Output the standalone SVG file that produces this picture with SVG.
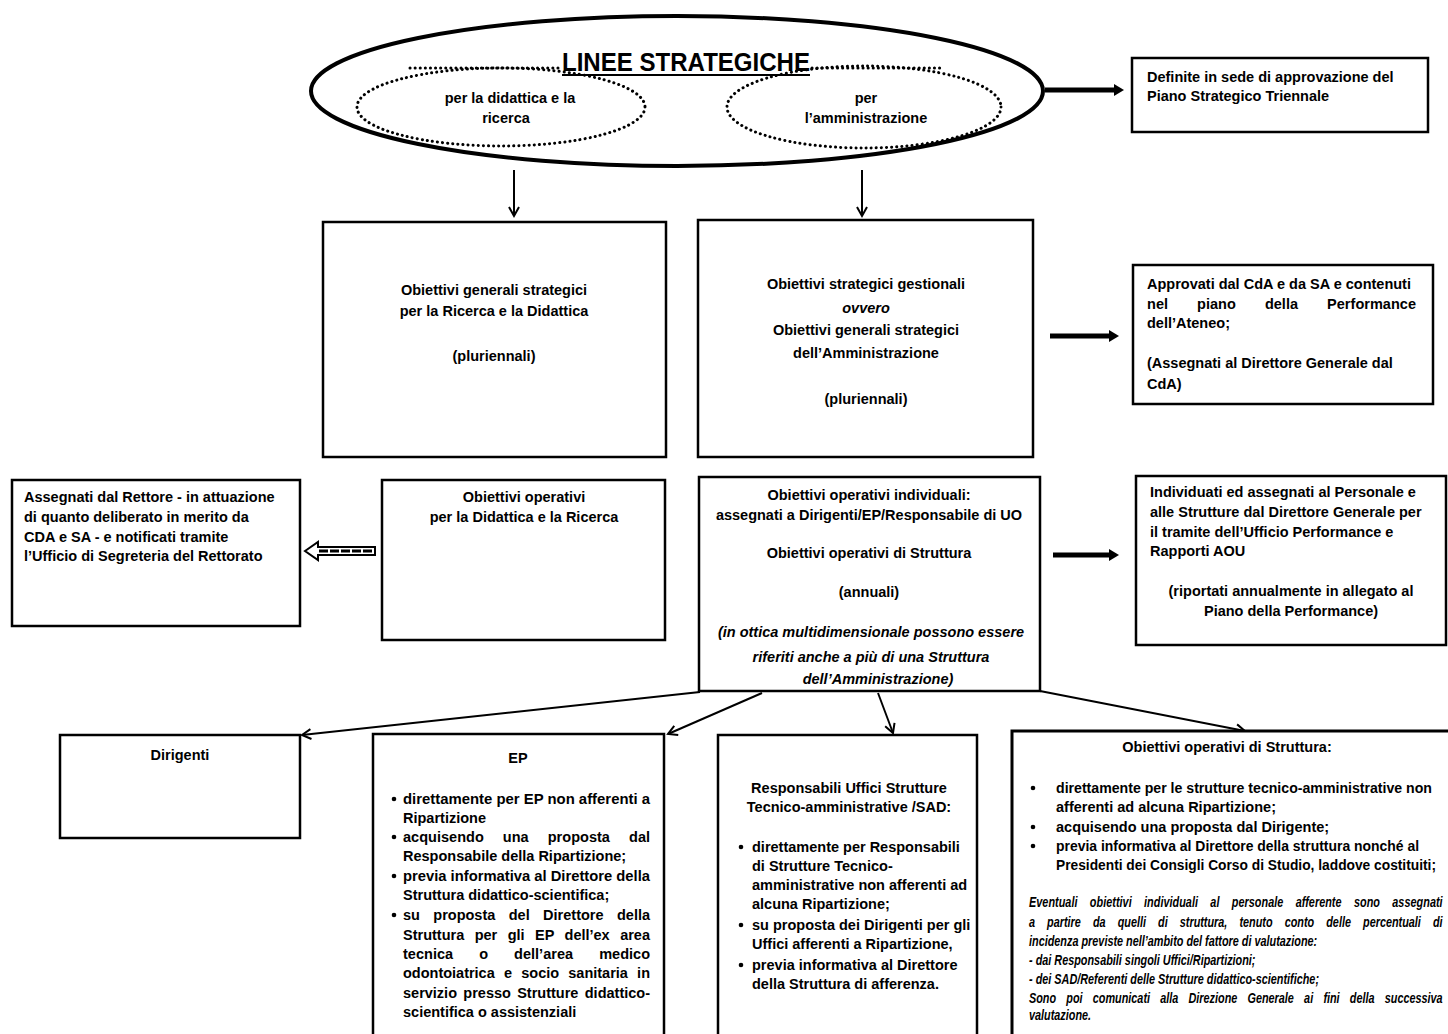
<svg xmlns="http://www.w3.org/2000/svg" width="1448" height="1034" viewBox="0 0 1448 1034">
<defs>
<style>
text{font-family:"Liberation Sans",Arial,sans-serif;font-weight:bold;font-size:14.5px;fill:#000}
.c{text-anchor:middle}
.i{font-style:italic}
.sm{font-size:14px}
.box{fill:#fff;stroke:#000;stroke-width:2.5}
.dot{fill:none;stroke:#000;stroke-width:3;stroke-dasharray:0.1 5;stroke-linecap:round}
.ln{fill:none;stroke:#000;stroke-width:2}
.thick{fill:none;stroke:#000;stroke-width:5}
</style>
<marker id="open" markerWidth="14" markerHeight="14" refX="10" refY="6" orient="auto" markerUnits="userSpaceOnUse">
<path d="M1,1 L10,6 L1,11" fill="none" stroke="#000" stroke-width="2"/>
</marker>
<marker id="solid" markerWidth="12" markerHeight="14" refX="2" refY="7" orient="auto" markerUnits="userSpaceOnUse">
<path d="M0,1 L10,7 L0,13 Z" fill="#000"/>
</marker>
</defs>
<rect width="1448" height="1034" fill="#fff"/>

<g id="connectors">
<line class="ln" x1="514" y1="170" x2="514" y2="216" marker-end="url(#open)"/>
<line class="ln" x1="862" y1="170" x2="862" y2="216" marker-end="url(#open)"/>
<line class="thick" x1="1045" y1="90" x2="1116" y2="90" marker-end="url(#solid)"/>
<line class="thick" x1="1050" y1="336" x2="1111" y2="336" marker-end="url(#solid)"/>
<line class="thick" x1="1053" y1="555" x2="1111" y2="555" marker-end="url(#solid)"/>
<g id="hollow-arrow">
<polygon points="305,551 318,542 318,547 375,547 375,555 318,555 318,560" fill="#fff" stroke="#000" stroke-width="2"/>
<line x1="319" y1="551" x2="373" y2="551" stroke="#000" stroke-width="3" stroke-dasharray="9 2"/>
</g>
<line class="ln" x1="700" y1="692" x2="302" y2="735" marker-end="url(#open)"/>
<line class="ln" x1="762" y1="693" x2="668" y2="734" marker-end="url(#open)"/>
<line class="ln" x1="878" y1="693" x2="893" y2="733" marker-end="url(#open)"/>
<line class="ln" x1="1040" y1="691" x2="1245" y2="731" marker-end="url(#open)"/>
<line x1="1253" y1="797" x2="1253" y2="832" stroke="#000" stroke-width="1.5" marker-end="url(#open)"/>
</g>

<g id="linee-strategiche">
<ellipse cx="677" cy="91" rx="366" ry="75" fill="none" stroke="#000" stroke-width="4"/>
<ellipse class="dot" cx="501" cy="107" rx="144" ry="39"/>
<ellipse class="dot" cx="864" cy="107" rx="137" ry="41"/>
<line class="dot" x1="410" y1="68" x2="558" y2="68"/>
<line class="dot" x1="812" y1="68" x2="940" y2="68"/>
<text x="686" y="71" class="c" style="font-size:25px" textLength="248" lengthAdjust="spacingAndGlyphs">LINEE STRATEGICHE</text>
<line x1="562" y1="75" x2="810" y2="75" stroke="#000" stroke-width="2"/>
<text x="510" y="103" class="c">per la didattica e la</text>
<text x="506" y="123" class="c">ricerca</text>
<text x="866" y="103" class="c">per</text>
<text x="866" y="123" class="c">l’amministrazione</text>
</g>

<g id="piano-strategico">
<rect class="box" x="1132" y="58" width="296" height="74"/>
<text x="1147" y="82">Definite in sede di approvazione del</text>
<text x="1147" y="101">Piano Strategico Triennale</text>
</g>

<g id="obiettivi-generali-ricerca">
<rect class="box" x="323" y="222" width="343" height="235"/>
<text x="494" y="295" class="c">Obiettivi generali strategici</text>
<text x="494" y="316" class="c">per la Ricerca e la Didattica</text>
<text x="494" y="361" class="c">(pluriennali)</text>
</g>

<g id="obiettivi-strategici-gestionali">
<rect class="box" x="698" y="220" width="335" height="237"/>
<text x="866" y="289" class="c">Obiettivi strategici gestionali</text>
<text x="866" y="313" class="c i">ovvero</text>
<text x="866" y="335" class="c">Obiettivi generali strategici</text>
<text x="866" y="358" class="c">dell’Amministrazione</text>
<text x="866" y="404" class="c">(pluriennali)</text>
</g>

<g id="approvati-cda">
<rect class="box" x="1133" y="265" width="300" height="139"/>
<text x="1147" y="289">Approvati dal CdA e da SA e contenuti</text>
<text x="1147" y="309" style="word-spacing:25px" textLength="269" lengthAdjust="spacing">nel piano della Performance</text>
<text x="1147" y="328">dell’Ateneo;</text>
<text x="1147" y="368">(Assegnati al Direttore Generale  dal</text>
<text x="1147" y="389">CdA)</text>
</g>

<g id="assegnati-rettore">
<rect class="box" x="12" y="480" width="288" height="146"/>
<text x="24" y="502">Assegnati dal Rettore - in attuazione</text>
<text x="24" y="522">di quanto deliberato in merito da</text>
<text x="24" y="542">CDA e SA - e notificati tramite</text>
<text x="24" y="561">l’Ufficio di Segreteria del Rettorato</text>
</g>

<g id="obiettivi-operativi-didattica">
<rect class="box" x="382" y="480" width="283" height="160"/>
<text x="524" y="502" class="c">Obiettivi operativi</text>
<text x="524" y="522" class="c">per la Didattica e la Ricerca</text>
</g>

<g id="obiettivi-operativi-individuali">
<rect class="box" x="699" y="477" width="341" height="214"/>
<text x="869" y="500" class="c">Obiettivi operativi individuali:</text>
<text x="869" y="520" class="c">assegnati a Dirigenti/EP/Responsabile di UO</text>
<text x="869" y="558" class="c">Obiettivi operativi di Struttura</text>
<text x="869" y="597" class="c">(annuali)</text>
<text x="871" y="637" class="c i">(in ottica multidimensionale possono essere</text>
<text x="871" y="662" class="c i">riferiti anche a più di una Struttura</text>
<text x="878" y="684" class="c i">dell’Amministrazione)</text>
</g>

<g id="individuati-personale">
<rect class="box" x="1136" y="476" width="310" height="169"/>
<text x="1150" y="497">Individuati ed assegnati al Personale e</text>
<text x="1150" y="517">alle Strutture dal Direttore Generale per</text>
<text x="1150" y="537">il tramite dell’Ufficio Performance e</text>
<text x="1150" y="556">Rapporti AOU</text>
<text x="1291" y="596" class="c">(riportati annualmente in allegato al</text>
<text x="1291" y="616" class="c">Piano della Performance)</text>
</g>

<g id="dirigenti">
<rect class="box" x="60" y="735" width="240" height="103"/>
<text x="180" y="760" class="c">Dirigenti</text>
</g>

<g id="ep">
<rect class="box" x="373" y="734" width="291" height="310"/>
<text x="518" y="763" class="c">EP</text>
<g>
<circle cx="394" cy="799" r="2.3"/>
<circle cx="394" cy="837" r="2.3"/>
<circle cx="394" cy="876" r="2.3"/>
<circle cx="394" cy="915" r="2.3"/>
</g>
<text x="403" y="804" textLength="247" lengthAdjust="spacingAndGlyphs">direttamente per EP non afferenti a</text>
<text x="403" y="823">Ripartizione</text>
<text x="403" y="842" style="word-spacing:15px" textLength="247" lengthAdjust="spacing">acquisendo una proposta dal</text>
<text x="403" y="861">Responsabile della Ripartizione;</text>
<text x="403" y="881" textLength="247" lengthAdjust="spacingAndGlyphs">previa informativa al Direttore della</text>
<text x="403" y="900">Struttura didattico-scientifica;</text>
<text x="403" y="920" style="word-spacing:9.4px" textLength="247" lengthAdjust="spacing">su proposta del Direttore della</text>
<text x="403" y="940" style="word-spacing:6.4px" textLength="247" lengthAdjust="spacing">Struttura per gli EP dell’ex area</text>
<text x="403" y="959" style="word-spacing:22px" textLength="247" lengthAdjust="spacing">tecnica o dell’area medico</text>
<text x="403" y="978" style="word-spacing:5.2px" textLength="247" lengthAdjust="spacing">odontoiatrica e socio sanitaria in</text>
<text x="403" y="998" style="word-spacing:2.3px" textLength="247" lengthAdjust="spacing">servizio presso Strutture didattico-</text>
<text x="403" y="1017">scientifica o assistenziali</text>
</g>

<g id="responsabili-uffici">
<rect class="box" x="718" y="735" width="259" height="310"/>
<text x="849" y="793" class="c">Responsabili Uffici Strutture</text>
<text x="849" y="812" class="c">Tecnico-amministrative /SAD:</text>
<g>
<circle cx="741" cy="847" r="2.3"/>
<circle cx="741" cy="925" r="2.3"/>
<circle cx="741" cy="965" r="2.3"/>
</g>
<text x="752" y="852">direttamente per Responsabili</text>
<text x="752" y="871">di Strutture Tecnico-</text>
<text x="752" y="890">amministrative non afferenti ad</text>
<text x="752" y="909">alcuna Ripartizione;</text>
<text x="752" y="930">su proposta dei Dirigenti  per gli</text>
<text x="752" y="949">Uffici afferenti a Ripartizione,</text>
<text x="752" y="970">previa informativa al Direttore</text>
<text x="752" y="989">della Struttura di afferenza.</text>
</g>

<g id="obiettivi-operativi-struttura">
<rect class="box" x="1012" y="731" width="450" height="314" style="stroke-width:3"/>
<text x="1227" y="752" class="c">Obiettivi operativi di Struttura:</text>
<g>
<circle cx="1033" cy="788" r="2.3"/>
<circle cx="1033" cy="827" r="2.3"/>
<circle cx="1033" cy="846" r="2.3"/>
</g>
<text x="1056" y="793" textLength="376" lengthAdjust="spacingAndGlyphs">direttamente per le strutture tecnico-amministrative non</text>
<text x="1056" y="812">afferenti ad alcuna Ripartizione;</text>
<text x="1056" y="832">acquisendo una proposta dal Dirigente;</text>
<text x="1056" y="851" textLength="363" lengthAdjust="spacingAndGlyphs">previa informativa al Direttore della struttura nonché al</text>
<text x="1056" y="870" textLength="380" lengthAdjust="spacingAndGlyphs">Presidenti dei Consigli Corso di Studio, laddove costituiti;</text>
<g transform="translate(1029,0) scale(0.776,1)">
<text x="0" y="907" class="i sm" style="word-spacing:12px" textLength="533" lengthAdjust="spacing">Eventuali obiettivi individuali al personale afferente sono assegnati</text>
<text x="0" y="927" class="i sm" style="word-spacing:11.7px" textLength="533" lengthAdjust="spacing">a partire da quelli di struttura, tenuto conto delle percentuali di</text>
<text x="0" y="946" class="i sm">incidenza previste nell’ambito del fattore di valutazione:</text>
<text x="0" y="965" class="i sm">- dai Responsabili singoli Uffici/Ripartizioni;</text>
<text x="0" y="984" class="i sm">- dei SAD/Referenti delle Strutture didattico-scientifiche;</text>
<text x="0" y="1003" class="i sm" style="word-spacing:9.3px" textLength="533" lengthAdjust="spacing">Sono poi comunicati alla Direzione Generale ai fini della successiva</text>
<text x="0" y="1020" class="i sm">valutazione.</text>
</g>
</g>
</svg>
